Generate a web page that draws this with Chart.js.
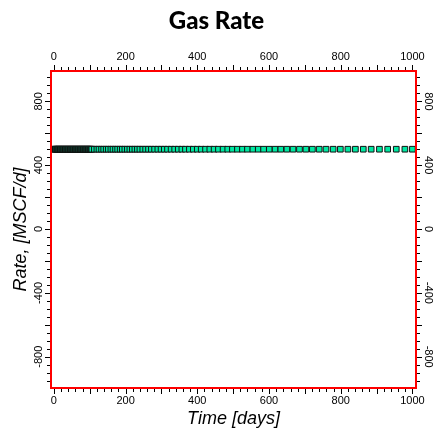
<!DOCTYPE html>
<html><head><meta charset="utf-8">
<script src="https://cdn.jsdelivr.net/npm/chart.js@4/dist/chart.umd.min.js"></script>
<style>html,body{margin:0;padding:0;background:#fff;}#wrap{width:433px;height:432px;}</style>
</head><body>
<div id="wrap"><canvas id="c" width="433" height="432"></canvas></div>
<script>
const chartTitle = 'Gas Rate';
const xAxisTitle = 'Time [days]';
const yAxisTitle = 'Rate, [MSCF/d]';

const timeDays = [
  0,2,4,6,8,10,12,14,16,18,20,22,24,26,28,30,32,34,36,38,40,42,44,46,48,50,52,54,
  56,58,60,62,64,66,68,70,72,74,76,78,80,82,84,86,88,90,92,94,96,98,100,102,104,106,
  113,120,126,133,139,146,152,159,165,172,178,185,191,198,205,212,219,226,233,240,
  248,256,264,272,281,290,299,308,317,327,337,347,357,367,378,389,400,411,423,435,
  447,459,472,485,498,512,526,540,555,570,585,601,617,633,650,667,685,703,721,740,
  759,779,799,820,841,863,885,908,931,955,979,1000
];
const gasRate = [
  500,500,500,500,500,500,500,500,500,500,500,500,500,500,500,500,500,500,500,500,500,
  500,500,500,500,500,500,500,500,500,500,500,500,500,500,500,500,500,500,500,500,500,
  500,500,500,500,500,500,500,500,500,500,500,500,500,500,500,500,500,500,500,500,500,
  500,500,500,500,500,500,500,500,500,500,500,500,500,500,500,500,500,500,500,500,500,
  500,500,500,500,500,500,500,500,500,500,500,500,500,500,500,500,500,500,500,500,500,
  500,500,500,500,500,500,500,500,500,500,500,500,500,500,500,500,500,500,500,500,500
];

const xRange = [-8, 1010];
const yRange = [-996, 990];
const xLabelStep = 200, xMajorStep = 100, xMinorStep = 20;
const yLabelStep = 400, yMajorStep = 200, yMinorStep = 50;

const tickFont = {family: '"Liberation Sans", Arial, sans-serif', size: 11};
const axisTitleFont = {family: '"Liberation Sans", Arial, sans-serif', size: 18, style: 'italic'};
const textColor = '#000';
const frameColor = '#ff0000';

const frameAndTicks = {
  id: 'frameAndTicks',
  afterDraw(chart) {
    const ctx = chart.ctx;
    const ca = chart.chartArea;
    const L = Math.round(ca.left), R = Math.round(ca.right), T = Math.round(ca.top), B = Math.round(ca.bottom);
    ctx.save();
    ctx.fillStyle = '#000';
    for (const id of ['x', 'x2', 'y', 'y2']) {
      const s = chart.scales[id];
      const horiz = s.isHorizontal();
      const minor = horiz ? xMinorStep : yMinorStep;
      const major = horiz ? xMajorStep : yMajorStep;
      for (const t of s.ticks) {
        if (Math.abs(t.value % minor) > 1e-9) continue;
        const len = Math.abs(t.value % major) < 1e-9 ? 6 : 4;
        const p = Math.round(s.getPixelForValue(t.value));
        if (s.position === 'bottom') ctx.fillRect(p, B, 1, len);
        else if (s.position === 'top') ctx.fillRect(p, T - len, 1, len);
        else if (s.position === 'left') ctx.fillRect(L - len, p, len, 1);
        else ctx.fillRect(R, p, len, 1);
      }
    }
    ctx.fillStyle = frameColor;
    ctx.fillRect(L - 1, T - 1, R - L + 2, 2);
    ctx.fillRect(L - 1, B - 1, R - L + 2, 2);
    ctx.fillRect(L - 1, T - 1, 2, B - T + 2);
    ctx.fillRect(R - 1, T - 1, 2, B - T + 2);
    ctx.restore();
  }
};

function xScaleCfg(pos, pad, h, withTitle) {
  return {
    type: 'linear', position: pos, min: xRange[0], max: xRange[1],
    grid: {display: false, drawTicks: false},
    border: {display: false},
    ticks: {
      stepSize: xMinorStep, autoSkip: false, includeBounds: false, minRotation: 0, maxRotation: 0,
      padding: pad, color: textColor, font: tickFont,
      callback: v => (Math.abs(v % xLabelStep) < 1e-9 ? String(v) : '')
    },
    title: withTitle ? {display: true, text: xAxisTitle, font: axisTitleFont, color: textColor, padding: {top: 0, bottom: 2}} : {display: false},
    afterFit: s => { s.height = h; }
  };
}
function yScaleCfg(pos, pad, w, rot, withTitle) {
  return {
    type: 'linear', position: pos, min: yRange[0], max: yRange[1],
    grid: {display: false, drawTicks: false},
    border: {display: false},
    ticks: {
      stepSize: yMinorStep, autoSkip: false, includeBounds: false, minRotation: rot, maxRotation: rot,
      crossAlign: 'center', padding: pad, color: textColor, font: tickFont,
      callback: v => (Math.abs(v % yLabelStep) < 1e-9 ? String(v) : '')
    },
    title: withTitle ? {display: true, text: yAxisTitle, font: axisTitleFont, color: textColor, padding: {top: 10, bottom: 0}} : {display: false},
    afterFit: s => { s.width = w; }
  };
}

new Chart(document.getElementById('c'), {
  type: 'scatter',
  data: {
    datasets: [{
      data: timeDays.map((t, i) => ({x: t, y: gasRate[i]})),
      showLine: false,
      pointStyle: 'rect',
      pointRadius: 4,
      pointBackgroundColor: '#00e8a2',
      pointBorderColor: '#111',
      pointBorderWidth: 1,
      xAxisID: 'x', yAxisID: 'y'
    }]
  },
  options: {
    responsive: false,
    devicePixelRatio: 1,
    animation: false,
    layout: {padding: 0},
    plugins: {
      legend: {display: false},
      tooltip: {enabled: false},
      title: {
        display: true, text: chartTitle, color: '#000',
        font: {family: 'Lato, "Open Sans", sans-serif', size: 24, weight: 900},
        padding: {top: 7, bottom: 0}
      }
    },
    scales: {
      x: xScaleCfg('bottom', 6, 44, true),
      x2: xScaleCfg('top', 7, 35.2, false),
      y: yScaleCfg('left', 1, 51, 90, true),
      y2: yScaleCfg('right', 1, 17, -90, false)
    }
  },
  plugins: [frameAndTicks]
});
</script>
</body></html>
